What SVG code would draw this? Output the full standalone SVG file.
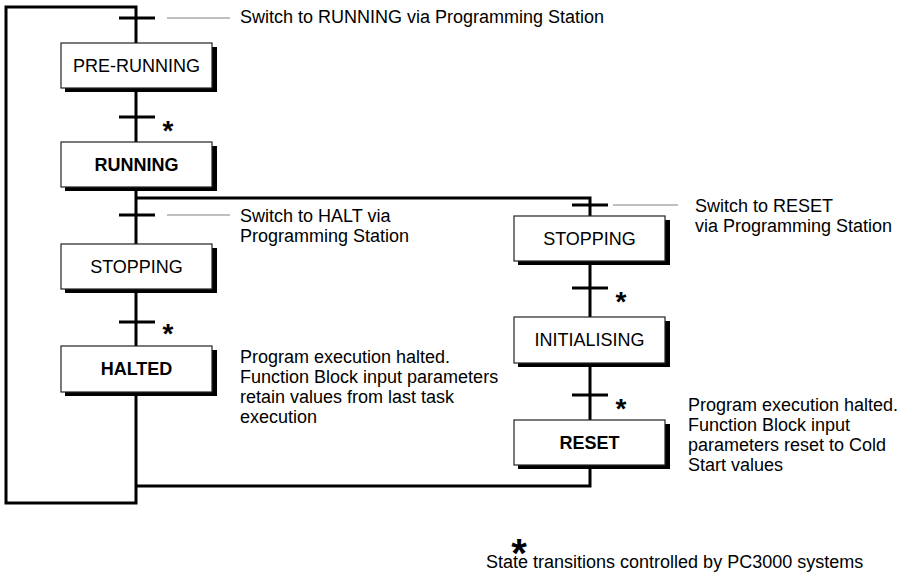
<svg xmlns="http://www.w3.org/2000/svg" width="912" height="582" viewBox="0 0 912 582">
  <defs>
    <style>
      .wire{fill:none;stroke:#000;stroke-width:3}
      .bar{stroke:#000;stroke-width:3}
      .lead{stroke:#808080;stroke-width:1}
      .shadow{fill:#000}
      .box{fill:#fff;stroke:#222;stroke-width:1.2}
      text{font-family:"Liberation Sans",Arial,sans-serif;fill:#000}
      .lbl{font-size:18px;text-anchor:middle}
      .b{font-weight:bold}
      .note{font-size:18px}
      .star{font-size:28px;font-weight:bold;text-anchor:middle}
    </style>
  </defs>

  <!-- connectors: loop back, main chain, reset branch, transition bars -->
  <g id="connectors">
    <path class="wire" d="M136,486 V503 H6 V7 H136 V486"/>
    <path class="wire" d="M136,198 H590 V486 H136"/>
    <line class="bar" x1="119" y1="18" x2="155" y2="18"/>
    <line class="bar" x1="119" y1="117" x2="155" y2="117"/>
    <line class="bar" x1="119" y1="215" x2="155" y2="215"/>
    <line class="bar" x1="119" y1="322" x2="155" y2="322"/>
    <line class="bar" x1="572" y1="205" x2="608" y2="205"/>
    <line class="bar" x1="572" y1="288" x2="608" y2="288"/>
    <line class="bar" x1="572" y1="395" x2="608" y2="395"/>
    <line class="lead" x1="167" y1="18" x2="230" y2="18"/>
    <line class="lead" x1="167" y1="215" x2="230" y2="215"/>
    <line class="lead" x1="613" y1="205" x2="678" y2="205"/>
    <text class="star" x="168" y="140">*</text>
    <text class="star" x="168" y="343">*</text>
    <text class="star" x="621" y="311">*</text>
    <text class="star" x="621" y="418">*</text>
  </g>

  <g id="pre-running">
    <rect class="shadow" x="65" y="47" width="152" height="45"/>
    <rect class="box" x="61" y="43" width="151" height="45"/>
    <text class="lbl" x="136.5" y="72">PRE-RUNNING</text>
  </g>

  <g id="running">
    <rect class="shadow" x="65" y="146" width="152" height="45"/>
    <rect class="box" x="61" y="142" width="151" height="45"/>
    <text class="lbl b" x="136.5" y="171">RUNNING</text>
  </g>

  <g id="stopping-halt">
    <rect class="shadow" x="65" y="248" width="152" height="45"/>
    <rect class="box" x="61" y="244" width="151" height="45"/>
    <text class="lbl" x="136.5" y="273">STOPPING</text>
  </g>

  <g id="halted">
    <rect class="shadow" x="65" y="350" width="152" height="46"/>
    <rect class="box" x="61" y="346" width="151" height="46"/>
    <text class="lbl b" x="136.5" y="375">HALTED</text>
  </g>

  <g id="stopping-reset">
    <rect class="shadow" x="518" y="220" width="152" height="45"/>
    <rect class="box" x="514" y="216" width="151" height="45"/>
    <text class="lbl" x="589.5" y="245">STOPPING</text>
  </g>

  <g id="initialising">
    <rect class="shadow" x="518" y="321" width="152" height="46"/>
    <rect class="box" x="514" y="317" width="151" height="46"/>
    <text class="lbl" x="589.5" y="346">INITIALISING</text>
  </g>

  <g id="reset">
    <rect class="shadow" x="518" y="424" width="152" height="45"/>
    <rect class="box" x="514" y="420" width="151" height="45"/>
    <text class="lbl b" x="589.5" y="449">RESET</text>
  </g>

  <!-- annotations -->
  <g id="notes">
    <text class="note" x="240" y="23">Switch to RUNNING via Programming Station</text>
    <text class="note" x="240" y="222">Switch to HALT via</text>
    <text class="note" x="240" y="242">Programming Station</text>
    <text class="note" x="695" y="212">Switch to RESET</text>
    <text class="note" x="695" y="232">via Programming Station</text>
    <text class="note" x="240" y="363">Program execution halted.</text>
    <text class="note" x="240" y="383">Function Block input parameters</text>
    <text class="note" x="240" y="403">retain values from last task</text>
    <text class="note" x="240" y="423">execution</text>
    <text class="note" x="688" y="411">Program execution halted.</text>
    <text class="note" x="688" y="431">Function Block input</text>
    <text class="note" x="688" y="451">parameters reset to Cold</text>
    <text class="note" x="688" y="471">Start values</text>
  </g>

  <g id="legend">
    <text class="star" x="519" y="567" style="font-size:40px">*</text>
    <text class="note" x="486" y="568">State transitions controlled by PC3000 systems</text>
  </g>
</svg>
